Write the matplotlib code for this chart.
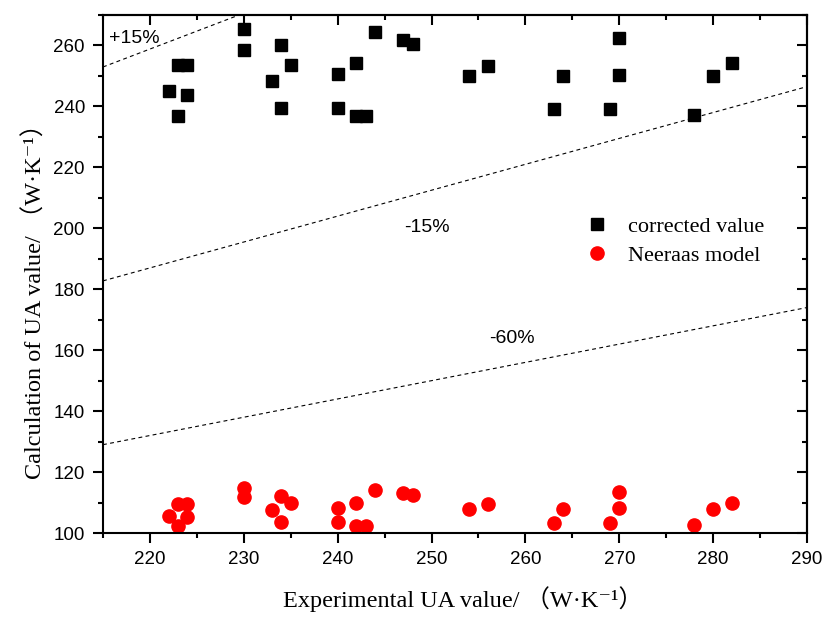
import matplotlib.pyplot as plt
from matplotlib.ticker import MultipleLocator
import numpy as np

# corrected value (black squares)
exp_corr = [222, 223, 223, 224, 224, 230, 230, 233, 234, 234, 235, 240, 240, 242, 242, 243,
            244, 247, 248, 254, 256, 263, 264, 269, 270, 270, 278, 280, 282]
calc_corr = [244.9, 236.7, 253.7, 253.7, 243.6, 265.3, 258.6, 248.5, 260.0, 239.4, 253.5, 250.8,
             239.4, 254.1, 236.8, 236.8, 264.3, 261.8, 260.4, 250.1, 253.1, 239.1, 249.9, 239.2,
             262.3, 250.2, 237.1, 250.1, 254.1]

# Neeraas model (red circles)
exp_neer = [222, 223, 223, 224, 224, 230, 230, 233, 234, 234, 235, 240, 240, 242, 242, 243,
            244, 247, 248, 254, 256, 263, 264, 269, 270, 270, 278, 280, 282]
calc_neer = [105.7, 109.5, 102.4, 109.6, 105.3, 114.8, 111.9, 107.5, 112.2, 103.6, 109.7, 108.3,
             103.6, 109.8, 102.4, 102.4, 114.2, 113.2, 112.6, 108.0, 109.5, 103.4, 108.0, 103.4,
             113.4, 108.2, 102.6, 108.0, 109.9]

# reference lines: slope factor and label
line_factors = [1 / 0.85, 0.85, 0.60]
line_labels = ['+15%', '-15%', '-60%']
label_pos = [(215.6, 262.4), (249.5, 200.3), (258.6, 163.9)]

serif = ['Liberation Serif', 'DejaVu Serif', 'Noto Sans CJK SC']

fig = plt.figure(figsize=(8.22, 6.17), dpi=100)
ax = fig.add_axes([0.1253, 0.1361, 0.8565, 0.8396])

xs = np.linspace(215, 290, 200)
for f in line_factors:
    ax.plot(xs, f * xs, color='black', lw=0.8, ls=(0, (3.5, 3)))
for lab, (tx, ty) in zip(line_labels, label_pos):
    ha = 'left' if lab.startswith('+') else 'center'
    ax.text(tx, ty, lab, fontsize=14, ha=ha, va='center', family='Liberation Sans')

ax.plot(exp_corr, calc_corr, ls='none', marker='s', ms=8, color='black', label='corrected value')
ax.plot(exp_neer, calc_neer, ls='none', marker='o', ms=9.5, color='red', mec='red', label='Neeraas model')

ax.set_xlim(215, 290)
ax.set_ylim(100, 270)
ax.xaxis.set_major_locator(MultipleLocator(10))
ax.xaxis.set_minor_locator(MultipleLocator(5))
ax.yaxis.set_major_locator(MultipleLocator(20))
ax.yaxis.set_minor_locator(MultipleLocator(10))

for s in ax.spines.values():
    s.set_linewidth(1.5)

ax.tick_params(which='both', direction='out', width=1.5, labelsize=13.5, pad=6)
ax.tick_params(which='major', length=7)
ax.tick_params(which='minor', length=3.5)
for lbl in ax.get_xticklabels() + ax.get_yticklabels():
    lbl.set_family('Liberation Sans')

# mirrored ticks pointing inward on the top and right
top = ax.secondary_xaxis('top')
top.set_xticks(np.arange(220, 291, 10))
top.xaxis.set_minor_locator(MultipleLocator(5))
top.tick_params(which='both', direction='in', width=1.5, labeltop=False)
top.tick_params(which='major', length=7)
top.tick_params(which='minor', length=3.5)
top.spines['top'].set_linewidth(1.5)
right = ax.secondary_yaxis('right')
right.set_yticks(np.arange(100, 271, 20))
right.yaxis.set_minor_locator(MultipleLocator(10))
right.tick_params(which='both', direction='in', width=1.5, labelright=False)
right.tick_params(which='major', length=7)
right.tick_params(which='minor', length=3.5)
right.spines['right'].set_linewidth(1.5)

ax.set_xlabel('Experimental UA value/ （W·K⁻¹）', family=serif, fontsize=17.5, va='center')
ax.set_ylabel('Calculation of UA value/ （W·K⁻¹）', family=serif, fontsize=17.5, va='center')
ax.xaxis.set_label_coords(0.511, -0.127)
ax.yaxis.set_label_coords(-0.0966, 0.458)

ax.legend(loc='center left', bbox_to_anchor=(0.683, 0.5635), frameon=False,
          prop={'family': 'Liberation Serif', 'size': 16}, handletextpad=0.8,
          labelspacing=0.41, handlelength=1.2, borderpad=0, borderaxespad=0)

fig.savefig('out.png', dpi=100)
